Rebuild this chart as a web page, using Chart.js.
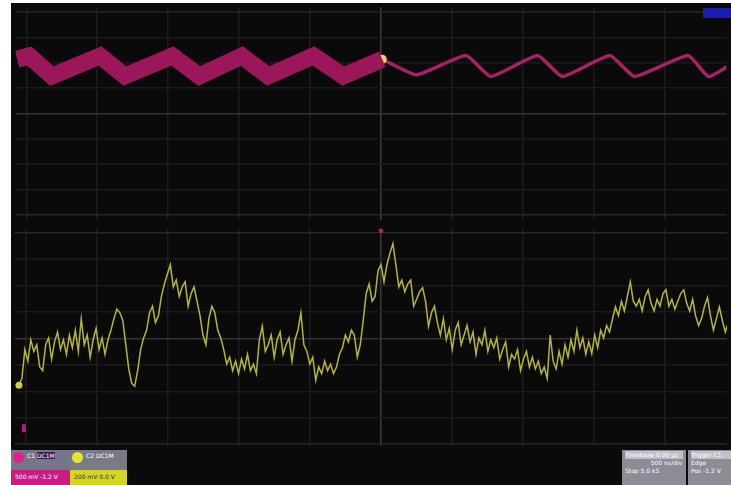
<!DOCTYPE html>
<html>
<head>
<meta charset="utf-8">
<script src="https://cdn.jsdelivr.net/npm/chart.js@4.4.1/dist/chart.umd.min.js"></script>
<style>
  html, body { margin: 0; padding: 0; background: #fff; }
  body { width: 731px; height: 485px; position: relative; overflow: hidden; font-family: "DejaVu Sans", sans-serif; }
  #screen { position: absolute; left: 11px; top: 3px; width: 720px; height: 482px; background: #0a0a0a; }
  canvas { position: absolute; left: 11px; }
  #topScope { top: 3px; }
  #bottomScope { top: 224px; }
  .blk { position: absolute; box-sizing: border-box; color: #fff; font-size: 6px; line-height: 8px; white-space: nowrap; overflow: hidden; }
  .dot { position: absolute; width: 11px; height: 11px; border-radius: 6px; }
  #flag { position: absolute; left: 703px; top: 8px; width: 28px; height: 10px; background: #1c1cb0; }
</style>
</head>
<body>
<div id="screen"></div>
<canvas id="topScope" width="720" height="221"></canvas>
<canvas id="bottomScope" width="720" height="226"></canvas>
<div id="flag"></div>

<!-- channel boxes, bottom left -->
<div class="blk" style="left:11px;top:450px;width:59px;height:20px;background:#76768a;padding:2px 0 0 16px;">C1 <span style="background:#3a1a5a">DC1M</span></div>
<div class="dot" style="left:13px;top:452px;background:#e0208c;"></div>
<div class="blk" style="left:11px;top:470px;width:59px;height:15px;background:#c81e82;padding:3px 0 0 4px;">500 mV -1.2 V</div>
<div class="blk" style="left:70px;top:450px;width:57px;height:20px;background:#7a7a86;padding:2px 0 0 16px;">C2 DC1M</div>
<div class="dot" style="left:72px;top:452px;background:#e6e62e;"></div>
<div class="blk" style="left:70px;top:470px;width:57px;height:15px;background:#d4d422;color:#333;padding:3px 0 0 4px;">200 mV 0.0 V</div>

<!-- timebase / trigger boxes, bottom right -->
<div class="blk" style="left:622px;top:450px;width:64px;height:35px;background:#8c8c94;padding:1px 0 0 3px;">
  <div style="background:#c0c0c8;color:#fff;margin-right:3px;">Timebase 0.00 µs</div>
  <div style="text-align:right;padding-right:4px;">500 ns/div</div>
  <div>Stop 5.0 kS</div>
</div>
<div class="blk" style="left:688px;top:450px;width:43px;height:35px;background:#8c8c94;padding:1px 0 0 3px;">
  <div style="background:#c0c0c8;color:#fff;">Trigger C1</div>
  <div>Edge</div>
  <div>Pos -1.2 V</div>
</div>

<script>
// horizontal position in divisions (10 div across, trigger at div 5)
const xDivTicks = [0, 1, 2, 3, 4, 5, 6, 7, 8, 9];
const yDivTicks = [-4, -3, -2, -1, 0, 1, 2, 3, 4];
const triggerTime = 5;
const groundMarkerLevel = -3.4;

// channel 1 (magenta), persisted envelope before trigger
const magBandTime = [-0.13, 0.04, 0.36, 1.04, 1.39, 2.06, 2.44, 3.04, 3.41, 4.05, 4.47, 5.02];
const magBandVolts = [2.14, 2.27, 1.48, 2.27, 1.48, 2.27, 1.48, 2.27, 1.48, 2.27, 1.48, 2.14];

// channel 1 (magenta), single trace after trigger
const magLineTime = [5.02, 5.50, 6.20, 6.55, 7.21, 7.56, 8.23, 8.58, 9.33, 9.62, 9.88];
const magLineVolts = [2.14, 1.53, 2.29, 1.46, 2.29, 1.46, 2.29, 1.46, 2.29, 1.46, 1.84];

// channel 2 (yellow) samples
const yellowStart = -0.0975;
const sampleInterval = 0.0418;
const yellowVolts = [
  -1.77, -1.51, -0.42, -0.86, -0.05, -0.49, -0.24, -1.08, -1.22, -0.24,
  0.02, -0.78, -0.13, 0.24, -0.42, -0.05, -0.60, 0.13, -0.35, 0.31,
  -0.49, 0.75, -0.24, 0.13, -0.71, -0.05, 0.38, -0.42, 0.02, -0.60,
  -0.05, 0.31, 0.75, 1.11, 0.97, 0.68, -0.24, -1.15, -1.70, -1.81,
  -1.22, -0.42, 0.02, 0.31, 0.97, 1.22, 0.60, 0.86, 1.59, 2.06,
  2.43, 2.79, 1.95, 2.21, 1.59, 1.95, 2.14, 1.22, 1.70, 1.95,
  1.41, 0.86, 0.13, -0.24, 0.75, 1.22, 0.97, 0.31, 0.02, -0.42,
  -0.97, -0.71, -1.22, -0.86, -1.33, -0.78, -1.15, -0.60, -1.22, -0.97,
  -1.33, -0.05, 0.46, -0.49, -0.24, 0.13, -0.71, -0.05, 0.24, -0.60,
  -0.24, 0.02, -0.86, -0.05, 0.31, 0.97, -0.24, -0.49, -0.97, -0.71,
  -1.59, -1.08, -1.33, -0.86, -1.22, -0.97, -1.33, -1.08, -0.60, -0.35,
  0.13, -0.13, 0.31, 0.13, -0.71, -0.24, 0.68, 1.70, 2.06, 1.41,
  1.59, 2.57, 2.79, 2.14, 2.79, 3.23, 3.59, 2.79, 1.95, 2.21,
  1.77, 2.06, 2.21, 1.22, 1.48, 1.77, 1.92, 1.41, 0.46, 0.97,
  1.22, 0.60, 0.13, 0.75, -0.05, 0.38, -0.42, 0.31, 0.60, -0.24,
  0.13, 0.49, -0.13, 0.24, -0.60, 0.02, -0.24, 0.31, -0.49, -0.05,
  -0.35, 0.02, -0.78, -0.42, -0.13, -1.08, -0.60, -0.78, -0.42, -1.22,
  -0.78, -0.49, -1.08, -0.71, -1.15, -0.86, -1.33, -1.08, -1.51, 0.13,
  -0.86, -1.15, -0.49, -0.97, -0.24, -0.71, -0.05, -0.49, 0.31, -0.35,
  0.02, -0.60, -0.13, -0.57, 0.13, -0.35, 0.31, 0.02, 0.49, 0.24,
  0.75, 1.19, 0.86, 1.41, 1.04, 1.59, 2.14, 1.41, 1.22, 1.48,
  1.04, 1.59, 1.84, 1.33, 1.04, 1.48, 1.22, 1.70, 1.84, 1.22,
  1.48, 1.11, 1.41, 1.70, 1.84, 1.33, 1.04, 1.48, 0.86, 0.49,
  0.75, 1.22, 1.55, 0.86, 0.31, 0.75, 1.19, 0.68, 0.24, 0.60
];

const pairs = (t, v) => t.map((x, i) => ({ x: x, y: v[i] }));

// small magenta markers (trigger position, ground level)
const markerPlugin = {
  id: 'markers',
  afterDatasetsDraw(chart, args, opts) {
    const { ctx, chartArea, scales } = chart;
    ctx.save();
    ctx.fillStyle = '#b01e72';
    if (opts.trigger) {
      const px = scales.x.getPixelForValue(triggerTime);
      ctx.fillRect(px - 2, chartArea.top + 1, 4, 4);
    }
    if (opts.ground) {
      const py = scales.y.getPixelForValue(groundMarkerLevel);
      ctx.fillRect(chartArea.left + 7, py - 4, 4, 8);
    }
    ctx.restore();
  }
};

function scopeOptions(yMin, yMax, markers) {
  return {
    responsive: false,
    animation: false,
    devicePixelRatio: 1,
    layout: { padding: 0 },
    plugins: { legend: { display: false }, tooltip: { enabled: false }, markers: markers },
    elements: { point: { radius: 0 } },
    scales: {
      x: {
        type: 'linear', min: -0.153, max: 9.875,
        afterBuildTicks: (s) => { s.ticks = xDivTicks.map(v => ({ value: v })); },
        ticks: { display: false },
        grid: { color: (c) => c.tick.value === triggerTime ? '#3c3c3c' : '#1d1d1d', lineWidth: 1.5, drawTicks: false },
        border: { display: false }
      },
      y: {
        type: 'linear', min: yMin, max: yMax,
        afterBuildTicks: (s) => { s.ticks = yDivTicks.map(v => ({ value: v })); },
        ticks: { display: false },
        grid: {
          color: (c) => c.tick.value === 0 ? '#363036' : (Math.abs(c.tick.value) === 4 ? '#262626' : '#1b1b1b'),
          lineWidth: 1.5, drawTicks: false
        },
        border: { display: false }
      }
    }
  };
}

new Chart(document.getElementById('topScope'), {
  type: 'line',
  data: {
    datasets: [
      {
        data: pairs(magBandTime, magBandVolts),
        borderColor: '#9c165a', borderWidth: 17, borderJoinStyle: 'miter', tension: 0
      },
      {
        data: pairs(magLineTime, magLineVolts),
        borderColor: '#a82068', borderWidth: 3.5, tension: 0.15,
        pointRadius: magLineTime.map((t, i) => i === 0 ? 4.5 : 0),
        pointBackgroundColor: '#f2d84a', pointBorderWidth: 0
      }
    ]
  },
  options: scopeOptions(-4.186, 4.186, { trigger: false, ground: false }),
  plugins: [markerPlugin]
});

new Chart(document.getElementById('bottomScope'), {
  type: 'line',
  data: {
    datasets: [
      {
        data: yellowVolts.map((v, i) => ({ x: yellowStart + i * sampleInterval, y: v })),
        borderColor: '#b6b634', borderWidth: 1.5, tension: 0,
        pointRadius: yellowVolts.map((v, i) => i === 0 ? 3.5 : 0),
        pointBackgroundColor: '#d0d040', pointBorderWidth: 0
      }
    ]
  },
  options: scopeOptions(-4.069, 4.179, { trigger: true, ground: true }),
  plugins: [markerPlugin]
});
</script>
</body>
</html>
